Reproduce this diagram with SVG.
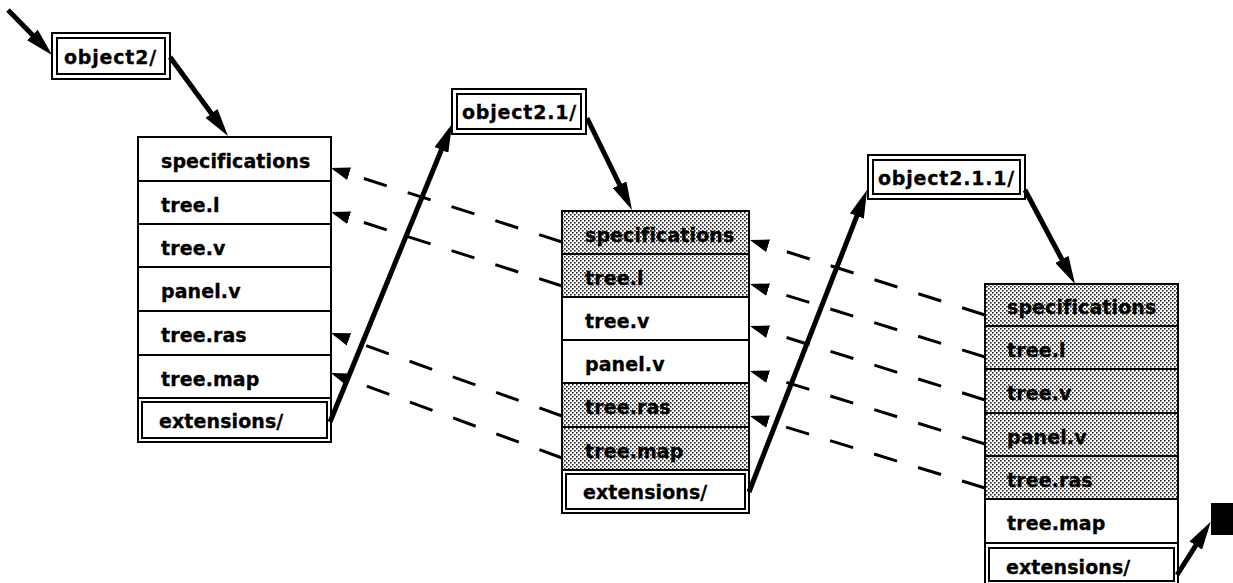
<svg xmlns="http://www.w3.org/2000/svg" width="1233" height="583" viewBox="0 0 1233 583">
  <style>
    .cell { fill: #fff; stroke: #000; stroke-width: 2; }
    .shade { fill: url(#dots); stroke: #000; stroke-width: 2; }
    .box { fill: #fff; stroke: #000; stroke-width: 2; }
    .lbl { font-family: "DejaVu Sans", "Liberation Sans", sans-serif; font-weight: bold; font-size: 19px; letter-spacing: 0.1px; fill: #000; stroke: #000; stroke-width: 0.3; }
    .obj { font-family: "DejaVu Sans", "Liberation Sans", sans-serif; font-weight: bold; font-size: 19px; letter-spacing: 0.8px; fill: #000; stroke: #000; stroke-width: 0.3; }
    .link { fill: none; stroke: #000; stroke-width: 5; marker-end: url(#headBig); }
    .copy { fill: none; stroke: #000; stroke-width: 3; stroke-dasharray: 24 22; marker-end: url(#headSmall); }
  </style>
  <defs>
    <pattern id="dots" width="4" height="4" patternUnits="userSpaceOnUse">
      <rect width="4" height="4" fill="#fff"/>
      <rect x="0" y="0" width="1.6" height="1.6" fill="#222"/>
      <rect x="2" y="2" width="1.6" height="1.6" fill="#222"/>
    </pattern>
    <marker id="headBig" viewBox="0 0 28 15" refX="18" refY="7.5" markerWidth="28" markerHeight="15" markerUnits="userSpaceOnUse" orient="auto">
      <path d="M0,0 L28,7.5 L0,15 z" fill="#000"/>
    </marker>
    <marker id="headSmall" viewBox="0 0 19 13" refX="15" refY="6.5" markerWidth="19" markerHeight="13" markerUnits="userSpaceOnUse" orient="auto">
      <path d="M0,0 L19,6.5 L0,13 z" fill="#000"/>
    </marker>
  </defs>

  <rect width="1233" height="583" fill="#fff"/>

  <!-- version directory labels -->
  <g id="object2">
    <rect class="box" x="52" y="33" width="118" height="46"/>
    <rect class="box" x="57" y="38" width="108" height="36"/>
    <text class="obj" x="64" y="64">object2/</text>
  </g>
  <g id="object2.1">
    <rect class="box" x="452" y="89" width="134" height="45"/>
    <rect class="box" x="457" y="94" width="124" height="35"/>
    <text class="obj" x="462" y="119">object2.1/</text>
  </g>
  <g id="object2.1.1">
    <rect class="box" x="868" y="155" width="157" height="44"/>
    <rect class="box" x="873" y="160" width="147" height="34"/>
    <text class="obj" x="878" y="185">object2.1.1/</text>
  </g>

  <!-- contents of object2/ -->
  <g id="dir-object2">
    <g id="o2-specifications"><rect class="cell" x="138" y="137" width="193" height="44"/><text class="lbl" x="161" y="168">specifications</text></g>
    <g id="o2-tree.l"><rect class="cell" x="138" y="181" width="193" height="43"/><text class="lbl" x="161" y="212">tree.l</text></g>
    <g id="o2-tree.v"><rect class="cell" x="138" y="224" width="193" height="43"/><text class="lbl" x="161" y="255">tree.v</text></g>
    <g id="o2-panel.v"><rect class="cell" x="138" y="267" width="193" height="44"/><text class="lbl" x="161" y="298">panel.v</text></g>
    <g id="o2-tree.ras"><rect class="cell" x="138" y="311" width="193" height="44"/><text class="lbl" x="161" y="342">tree.ras</text></g>
    <g id="o2-tree.map"><rect class="cell" x="138" y="355" width="193" height="43"/><text class="lbl" x="161" y="386">tree.map</text></g>
    <g id="o2-extensions"><rect class="cell" x="138" y="398" width="193" height="44"/><rect class="box" x="142" y="402" width="185" height="36"/><text class="lbl" x="159" y="428">extensions/</text></g>
  </g>

  <!-- contents of object2.1/ -->
  <g id="dir-object2.1">
    <g id="o21-specifications"><rect class="shade" x="562" y="211" width="187" height="43"/><text class="lbl" x="585" y="242">specifications</text></g>
    <g id="o21-tree.l"><rect class="shade" x="562" y="254" width="187" height="43"/><text class="lbl" x="585" y="285">tree.l</text></g>
    <g id="o21-tree.v"><rect class="cell" x="562" y="297" width="187" height="43"/><text class="lbl" x="585" y="328">tree.v</text></g>
    <g id="o21-panel.v"><rect class="cell" x="562" y="340" width="187" height="43"/><text class="lbl" x="585" y="371">panel.v</text></g>
    <g id="o21-tree.ras"><rect class="shade" x="562" y="383" width="187" height="44"/><text class="lbl" x="585" y="414">tree.ras</text></g>
    <g id="o21-tree.map"><rect class="shade" x="562" y="427" width="187" height="43"/><text class="lbl" x="585" y="458">tree.map</text></g>
    <g id="o21-extensions"><rect class="cell" x="562" y="470" width="187" height="43"/><rect class="box" x="566" y="474" width="179" height="35"/><text class="lbl" x="583" y="499">extensions/</text></g>
  </g>

  <!-- contents of object2.1.1/ -->
  <g id="dir-object2.1.1">
    <g id="o211-specifications"><rect class="shade" x="985" y="284" width="193" height="42"/><text class="lbl" x="1007" y="314">specifications</text></g>
    <g id="o211-tree.l"><rect class="shade" x="985" y="326" width="193" height="43"/><text class="lbl" x="1007" y="357">tree.l</text></g>
    <g id="o211-tree.v"><rect class="shade" x="985" y="369" width="193" height="44"/><text class="lbl" x="1007" y="400">tree.v</text></g>
    <g id="o211-panel.v"><rect class="shade" x="985" y="413" width="193" height="43"/><text class="lbl" x="1007" y="444">panel.v</text></g>
    <g id="o211-tree.ras"><rect class="shade" x="985" y="456" width="193" height="43"/><text class="lbl" x="1007" y="487">tree.ras</text></g>
    <g id="o211-tree.map"><rect class="cell" x="985" y="499" width="193" height="44"/><text class="lbl" x="1007" y="530">tree.map</text></g>
    <g id="o211-extensions"><rect class="cell" x="985" y="543" width="193" height="44"/><rect class="box" x="989" y="548" width="185" height="33"/><text class="lbl" x="1006" y="574">extensions/</text></g>
  </g>

  <!-- next version, not expanded -->
  <g id="next-version">
    <rect x="1211" y="503" width="24" height="32" fill="#000"/>
  </g>

  <g id="connectors">
    <!-- directory links -->
    <path class="link" d="M8,10 L45,47.8"/>
    <path class="link" d="M170,57 L222.1,127.9"/>
    <path class="link" d="M330,422 L448.2,133.3"/>
    <path class="link" d="M587,118 L627.6,201"/>
    <path class="link" d="M749,492 L863.4,199.3"/>
    <path class="link" d="M1025,190 L1070.3,275.2"/>
    <path class="link" d="M1177,575 L1205.4,530.3"/>
    <!-- files shared with the previous version -->
    <path class="copy" d="M562,242 L334.8,169.2"/>
    <path class="copy" d="M562,286 L334.8,213.2"/>
    <path class="copy" d="M562,416 L334.8,334.4"/>
    <path class="copy" d="M562,458 L334.8,374.4"/>
    <path class="copy" d="M985,315 L753.8,241.2"/>
    <path class="copy" d="M985,357 L753.8,285.2"/>
    <path class="copy" d="M985,400 L753.8,327.2"/>
    <path class="copy" d="M985,444 L753.8,372.2"/>
    <path class="copy" d="M985,488 L753.8,417.2"/>
  </g>
</svg>
